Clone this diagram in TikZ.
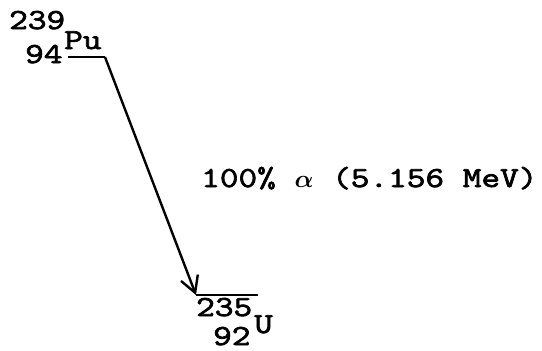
\documentclass[tikz,border=0pt]{standalone}
\usepackage{amsmath}
\usepackage{fontspec}
\newfontfamily\typefont{Latin Modern Mono}[FakeBold=2.5, FakeStretch=1.25]
\usetikzlibrary{arrows.meta}

\begin{document}
\begin{tikzpicture}[
    x=1pt, y=-1pt,
    label/.style ={font=\typefont\fontsize{29}{30}\selectfont,
                   anchor=base west, inner sep=0pt},
    level/.style ={line width=2.4pt},
    decay/.style ={line width=2.4pt, -{Straight Barb[length=16pt, width=18pt, line width=2.4pt]}}
]
\useasboundingbox (0,0) rectangle (542,351);

% =================== parent: Pu-239 ===================
\coordinate (pul) at (68,57);
\coordinate (pur) at (105,57);
\draw[level] (pul) -- (pur);
\node[label] (pua) at (9,29)  {239};
\node[label] (puz) at (25,63) {94};
\node[label] (pu)  at (64,49) {Pu};

% =================== daughter: U-235 ===================
\coordinate (ul) at (196,295);
\coordinate (ur) at (258,295);
\draw[level] (ul) -- (ur);
\node[label] (ua) at (196,316) {235};
\node[label] (u)  at (254,333) {U};
\node[label] (uz) at (213,345) {92};

% decay branch
\draw[decay] (pur) -- (ul);
\node[label] (alpha) at (201,187)
    {100\% {\fontsize{33}{33}\selectfont$\boldsymbol{\alpha}$} (5.156 MeV)};

\end{tikzpicture}
\end{document}
